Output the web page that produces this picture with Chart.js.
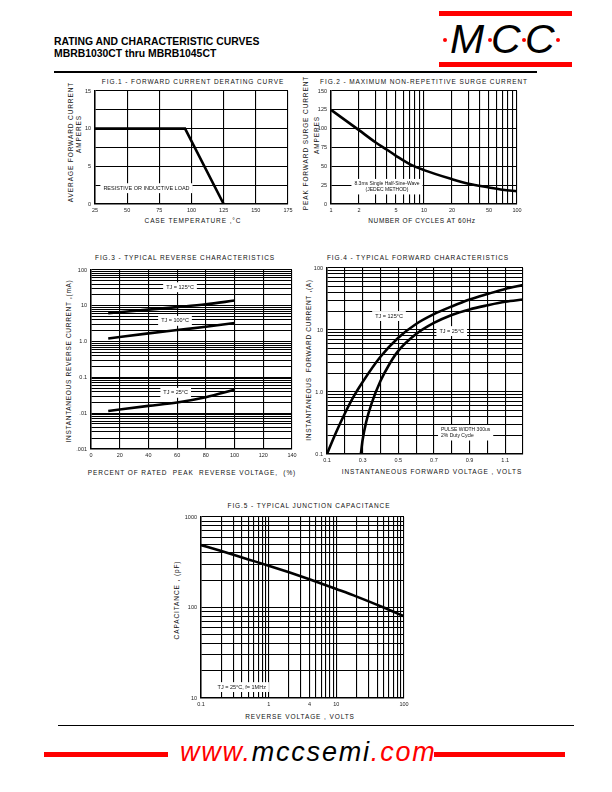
<!DOCTYPE html>
<html>
<head>
<meta charset="utf-8">
<script src="https://cdn.jsdelivr.net/npm/chart.js@4.4.0/dist/chart.umd.min.js"></script>
<style>
  html, body { margin:0; padding:0; background:#fff; }
  #page { position:relative; width:612px; height:792px; overflow:hidden; font-family:"Liberation Sans", Arial, sans-serif; }
  .box { position:absolute; }
  .t { position:absolute; white-space:nowrap; font-size:6.5px; letter-spacing:0.9px; color:#111; transform:translate(-50%,-50%); }
  .r { transform:translate(-50%,-50%) rotate(-90deg); }
  .bar { position:absolute; background:#f00; }
  .lg { position:absolute; top:16px; font-style:italic; font-size:41px; color:#000; }
  .dot { position:absolute; top:38px; width:4px; height:4px; border-radius:2px; background:#f00; }
</style>
</head>
<body>
<div id="page">
  <div style="position:absolute;left:54px;top:36px;font-weight:bold;font-size:10.4px;line-height:12px;color:#000;">RATING AND CHARACTERISTIC CURVES<br>MBRB1030CT thru MBRB1045CT</div>
  <div class="bar" style="left:439px;top:11px;width:133px;height:5px;"></div>
  <div class="bar" style="left:439px;top:62px;width:133px;height:5px;"></div>
  <div class="lg" style="left:450px;">M</div>
  <div class="lg" style="left:491px;">C</div>
  <div class="lg" style="left:525px;">C</div>
  <div class="dot" style="left:443px;"></div>
  <div class="dot" style="left:488px;"></div>
  <div class="dot" style="left:522px;"></div>
  <div class="dot" style="left:556px;"></div>
  <div style="position:absolute;left:54px;top:71px;width:483px;height:2px;background:#000;"></div>

  <div class="t" style="left:193px;top:81px;">FIG.1 - FORWARD CURRENT DERATING CURVE</div>
  <div class="t r" style="left:70px;top:142px;">AVERAGE FORWARD CURRENT</div>
  <div class="t r" style="left:78px;top:134px;">AMPERES</div>
  <div class="t" style="left:193px;top:220px;">CASE TEMPERATURE ,°C</div>

  <div class="t" style="left:424px;top:81px;">FIG.2 - MAXIMUM NON-REPETITIVE SURGE CURRENT</div>
  <div class="t r" style="left:305px;top:143px;">PEAK FORWARD SURGE CURRENT</div>
  <div class="t r" style="left:316px;top:135px;">AMPERES</div>
  <div class="t" style="left:422px;top:220px;letter-spacing:0.6px;">NUMBER OF CYCLES AT 60Hz</div>

  <div class="t" style="left:185px;top:257px;">FIG.3 - TYPICAL REVERSE CHARACTERISTICS</div>
  <div class="t r" style="left:68px;top:361px;letter-spacing:0.7px;">INSTANTANEOUS REVERSE CURRENT ,(mA)</div>
  <div class="t" style="left:192px;top:472px;">PERCENT OF RATED&nbsp; PEAK&nbsp; REVERSE VOLTAGE,&nbsp; (%)</div>

  <div class="t" style="left:418px;top:257px;">FIG.4 - TYPICAL FORWARD CHARACTERISTICS</div>
  <div class="t r" style="left:308px;top:360px;letter-spacing:0.7px;">INSTANTANEOUS&nbsp; FORWARD CURRENT ,(A)</div>
  <div class="t" style="left:432px;top:471px;">INSTANTANEOUS FORWARD VOLTAGE , VOLTS</div>

  <div class="t" style="left:309px;top:505px;">FIG.5 - TYPICAL JUNCTION CAPACITANCE</div>
  <div class="t r" style="left:176px;top:600px;">CAPACITANCE , (pF)</div>
  <div class="t" style="left:300px;top:716px;">REVERSE VOLTAGE , VOLTS</div>

  <div id="b1" class="box"><canvas id="c1"></canvas></div>
  <div id="b2" class="box"><canvas id="c2"></canvas></div>
  <div id="b3" class="box"><canvas id="c3"></canvas></div>
  <div id="b4" class="box"><canvas id="c4"></canvas></div>
  <div id="b5" class="box"><canvas id="c5"></canvas></div>

  <div style="position:absolute;left:58px;top:725px;width:516px;height:1px;background:#000;"></div>
  <div class="bar" style="left:44px;top:752px;width:124px;height:5px;"></div>
  <div class="bar" style="left:434px;top:752px;width:131px;height:5px;"></div>
  <div style="position:absolute;left:180px;top:737px;font-style:italic;font-size:27px;letter-spacing:1.8px;color:#000;"><span style="color:#f00">www.</span>mccsemi<span style="color:#f00">.com</span></div>
</div>
<script>
// Fig.1 forward current derating
const fig1Temp = [25, 95, 125];
const fig1Amps = [10, 10, 0];
const fig1XTicks = [25, 50, 75, 100, 125, 150, 175];
const fig1YTicks = [0, 2.5, 5, 7.5, 10, 12.5, 15];
const fig1YLabels = [0, 5, 10, 15];

// Fig.2 surge current
const fig2Cycles = [1, 2, 3, 4, 5, 7, 10, 20, 30, 50, 70, 100];
const fig2Amps = [125, 98, 82, 72, 64, 53, 45, 33, 27, 22, 19, 17];
const fig2XTicks = [1,2,3,4,5,6,7,8,9,10,20,30,40,50,60,70,80,90,100];
const fig2XLabels = [1, 2, 5, 10, 20, 50, 100];
const fig2YTicks = [0, 25, 50, 75, 100, 125, 150];

// Fig.3 reverse characteristics
const fig3Pct = [12, 40, 60, 80, 100];
const fig3Tj125 = [6.2, 7.8, 9.2, 11, 14];
const fig3Tj100 = [1.22, 1.7, 2.1, 2.6, 3.3];
const fig3Tj25 = [0.0115, 0.016, 0.02, 0.028, 0.045];
const fig3XTicks = [0, 20, 40, 60, 80, 100, 120, 140];
const fig3YLabels = [0.001, 0.01, 0.1, 1, 10, 100];
const fig3YTexts = ['.001', '.01', '0.1', '1.0', '10', '100'];

// Fig.4 forward characteristics
const fig4V125 = [0.1, 0.15, 0.2, 0.25, 0.3, 0.4, 0.5, 0.6, 0.7, 0.8, 0.9, 1.0, 1.1, 1.2];
const fig4I125 = [0.1, 0.22, 0.45, 0.85, 1.45, 3.7, 7.5, 12.5, 18, 24, 31, 38, 46, 53];
const fig4V25 = [0.29, 0.3, 0.32, 0.35, 0.4, 0.45, 0.5, 0.6, 0.7, 0.8, 0.9, 1.0, 1.1, 1.2];
const fig4I25 = [0.1, 0.17, 0.33, 0.65, 1.5, 2.8, 4.6, 8.6, 13, 17.5, 21.5, 25, 28.5, 31];
const fig4XTicks = [0.1, 0.2, 0.3, 0.4, 0.5, 0.6, 0.7, 0.8, 0.9, 1.0, 1.1, 1.2];
const fig4XLabels = [0.1, 0.3, 0.5, 0.7, 0.9, 1.1];
const fig4YLabels = [0.1, 1, 10, 100];
const fig4YTexts = ['0.1', '1.0', '10', '100'];

// Fig.5 junction capacitance
const fig5Volts = [0.1, 0.2, 0.5, 1, 2, 4, 10, 20, 50, 100];
const fig5Cap = [490, 420, 340, 290, 245, 205, 160, 132, 100, 80];
const fig5XLabels = [0.1, 1, 4, 10, 100];
const fig5XTexts = ['0.1', '1', '4', '10', '100'];
const fig5YLabels = [10, 100, 1000];

const FONT = '"Liberation Sans", Arial, sans-serif';
const W = 30, H = 14, PT = 6, PR = 10;

function logGrid(lo, hi) {
  const out = [];
  for (let d = lo; d < hi * 0.999; d *= 10)
    for (let k = 1; k < 10; k++) out.push(Number((k * d).toPrecision(6)));
  out.push(hi);
  return out;
}

function pts(xs, ys) { return xs.map((x, i) => ({x: x, y: ys[i]})); }

function axis(isX, type, min, max, grid, labelVals, labelTexts) {
  return {
    type: type, min: min, max: max,
    afterBuildTicks: s => { s.ticks = grid.map(v => ({value: v})); },
    afterFit: s => {
      if (isX) { s.height = H; s.paddingLeft = 0; s.paddingRight = 0; }
      else { s.width = W; s.paddingTop = 0; s.paddingBottom = 0; }
    },
    ticks: {
      autoSkip: false, maxRotation: 0, minRotation: 0, padding: isX ? 3 : 4,
      color: '#222', font: {size: 5.5, family: FONT},
      callback: v => {
        const i = labelVals.findIndex(l => Math.abs(l - v) <= Math.abs(l) * 1e-6 + 1e-9);
        if (i < 0) return '';
        return labelTexts ? labelTexts[i] : String(labelVals[i]);
      }
    },
    grid: {color: '#000', lineWidth: 1.1, drawTicks: false},
    border: {color: '#000', width: 1.5}
  };
}

// white-boxed text notes placed at data coordinates
const notesPlugin = {
  id: 'notes',
  beforeDatasetsDraw(chart, args, opts) {
    const items = opts.items || [];
    const ctx = chart.ctx;
    items.forEach(it => {
      const px = chart.scales.x.getPixelForValue(it.x);
      const py = chart.scales.y.getPixelForValue(it.y);
      const size = it.size || 5.5;
      ctx.save();
      ctx.font = size + 'px ' + FONT;
      const lh = size * 1.25;
      const w = Math.max.apply(null, it.lines.map(l => ctx.measureText(l).width));
      const h = lh * it.lines.length;
      const left = it.align === 'left' ? px : px - w / 2;
      ctx.fillStyle = '#fff';
      ctx.fillRect(left - 3, py - h / 2 - 1.5, w + 6, h + 3);
      ctx.fillStyle = '#111';
      ctx.textBaseline = 'middle';
      ctx.textAlign = 'left';
      it.lines.forEach((l, i) => {
        const lw = ctx.measureText(l).width;
        const lx = it.align === 'left' ? left : px - lw / 2;
        ctx.fillText(l, lx, py - h / 2 + lh * (i + 0.5));
      });
      ctx.restore();
    });
  }
};
Chart.register(notesPlugin);

function line(data, smooth) {
  return {data: data, borderColor: '#000', borderWidth: 2.6, pointRadius: 0, fill: false,
          tension: 0, cubicInterpolationMode: smooth ? 'monotone' : 'default'};
}

function make(n, plot, datasets, xAxis, yAxis, notes) {
  const box = document.getElementById('b' + n);
  box.style.left = (plot.l - W) + 'px';
  box.style.top = (plot.t - PT) + 'px';
  box.style.width = (plot.r - plot.l + W + PR) + 'px';
  box.style.height = (plot.b - plot.t + H + PT) + 'px';
  return new Chart(document.getElementById('c' + n), {
    type: 'line',
    data: {datasets: datasets},
    options: {
      responsive: true, maintainAspectRatio: false, animation: false,
      layout: {padding: {left: 0, top: PT, right: PR, bottom: 0}},
      scales: {x: xAxis, y: yAxis},
      plugins: {legend: {display: false}, tooltip: {enabled: false}, notes: {items: notes || []}}
    }
  });
}

make(1, {l: 95, r: 288, t: 91, b: 204},
  [line(pts(fig1Temp, fig1Amps), false)],
  axis(true, 'linear', 25, 175, fig1XTicks, fig1XTicks),
  axis(false, 'linear', 0, 15, fig1YTicks, fig1YLabels),
  [{x: 65, y: 2.1, lines: ['RESISTIVE OR INDUCTIVE LOAD']}]);

make(2, {l: 331, r: 517, t: 91, b: 204},
  [line(pts(fig2Cycles, fig2Amps), true)],
  axis(true, 'logarithmic', 1, 100, fig2XTicks, fig2XLabels),
  axis(false, 'linear', 0, 150, fig2YTicks, fig2YTicks),
  [{x: 4.0, y: 23, lines: ['8.3ms Single Half-Sine-Wave', '(JEDEC METHOD)'], size: 5}]);

make(3, {l: 91, r: 292, t: 270, b: 449},
  [line(pts(fig3Pct, fig3Tj125), true), line(pts(fig3Pct, fig3Tj100), true), line(pts(fig3Pct, fig3Tj25), true)],
  axis(true, 'linear', 0, 140, fig3XTicks, fig3XTicks),
  axis(false, 'logarithmic', 0.001, 100, logGrid(0.001, 100), fig3YLabels, fig3YTexts),
  [{x: 62, y: 33, lines: ['TJ = 125°C']}, {x: 58.5, y: 3.8, lines: ['TJ = 100°C']}, {x: 59, y: 0.037, lines: ['TJ = 25°C']}]);

make(4, {l: 327, r: 523, t: 268, b: 454},
  [line(pts(fig4V125, fig4I125), true), line(pts(fig4V25, fig4I25), true)],
  axis(true, 'linear', 0.1, 1.2, fig4XTicks, fig4XLabels),
  axis(false, 'logarithmic', 0.1, 100, logGrid(0.1, 100), fig4YLabels, fig4YTexts),
  [{x: 0.448, y: 16.8, lines: ['TJ = 125°C']}, {x: 0.80, y: 9.6, lines: ['TJ = 25°C']},
   {x: 0.74, y: 0.22, lines: ['PULSE WIDTH 300us', '2% Duty Cycle'], size: 5, align: 'left'}]);

make(5, {l: 201, r: 404, t: 517, b: 698},
  [line(pts(fig5Volts, fig5Cap), true)],
  axis(true, 'logarithmic', 0.1, 100, logGrid(0.1, 100), fig5XLabels, fig5XTexts),
  axis(false, 'logarithmic', 10, 1000, logGrid(10, 1000), fig5YLabels),
  [{x: 0.40, y: 13.2, lines: ['TJ = 25°C, f= 1MHz']}]);
</script>
</body>
</html>
